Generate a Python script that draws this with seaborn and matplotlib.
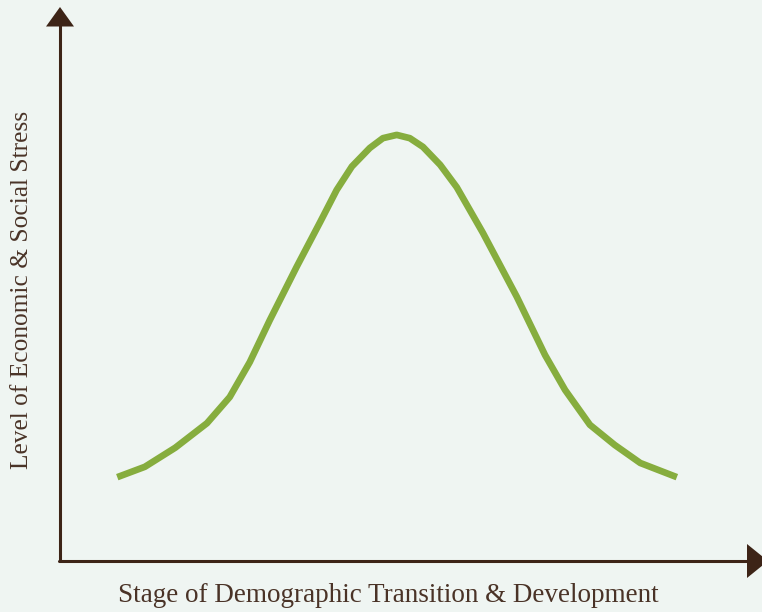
import matplotlib
matplotlib.use("Agg")
import matplotlib.pyplot as plt
import seaborn as sns
import pandas as pd
from matplotlib.patches import Polygon

# Data (stage of transition vs. stress level, arbitrary 0-10 units)
stage = [0.83, 1.23, 1.67, 2.13, 2.46, 2.75, 3.04, 3.43, 3.77, 4.01, 4.23, 4.49, 4.68,
         4.88, 5.07, 5.26, 5.51, 5.75, 6.13, 6.62, 7.03, 7.32, 7.68, 8.04, 8.41, 8.94]
stress = [1.52, 1.71, 2.06, 2.51, 2.99, 3.63, 4.40, 5.38, 6.20, 6.79, 7.22, 7.56, 7.74,
          7.80, 7.74, 7.58, 7.25, 6.84, 6.00, 4.83, 3.76, 3.12, 2.48, 2.11, 1.78, 1.52]
x_label = "Stage of Demographic Transition & Development"
y_label = "Level of Economic & Social Stress"

BG = "#eff5f2"
AXC = "#3d2417"
TXT = "#4a3327"
GREEN = "#86ad3e"

sns.set_theme(style="white")
plt.rcParams["font.family"] = ["Liberation Serif", "DejaVu Serif"]

W, H = 762, 612
fig = plt.figure(figsize=(W / 100, H / 100), dpi=100, facecolor=BG)
ax = fig.add_axes([60 / W, 52 / H, 690 / W, 545 / H])
ax.set_facecolor(BG)
df = pd.DataFrame({"stage": stage, "stress": stress})
sns.lineplot(data=df, x="stage", y="stress", ax=ax, color=GREEN, linewidth=4.8,
             sort=False, solid_joinstyle="round", solid_capstyle="butt")
ax.set_xlim(0, 10)
ax.set_ylim(0, 10)
for s in ax.spines.values():
    s.set_visible(False)
ax.set_xticks([])
ax.set_yticks([])
ax.set_xlabel("")
ax.set_ylabel("")

def px(x, y):
    return (x / W, 1 - y / H)

# axes lines
fig.add_artist(plt.Line2D([px(59.5, 0)[0], px(59.5, 0)[0]], [px(0, 561)[1], px(0, 24)[1]],
                          color=AXC, linewidth=2.2, transform=fig.transFigure))
fig.add_artist(plt.Line2D([px(59, 0)[0], px(750, 0)[0]], [px(0, 561)[1], px(0, 561)[1]],
                          color=AXC, linewidth=2.2, transform=fig.transFigure))
# arrow heads
fig.add_artist(Polygon([px(46, 26.5), px(74, 26.5), px(60, 7)], closed=True,
                       facecolor=AXC, edgecolor="none", transform=fig.transFigure))
fig.add_artist(Polygon([px(747, 544), px(747, 578), px(768, 561)], closed=True,
                       facecolor=AXC, edgecolor="none", transform=fig.transFigure))

fig.text(388 / W, 1 - 596 / H, x_label, ha="center", va="center", fontsize=19.5, color=TXT)
fig.text(22 / W, 1 - 290 / H, y_label, ha="center", va="center", rotation=90,
         fontsize=18.3, color=TXT)

fig.savefig("out.png", dpi=100, facecolor=BG)
